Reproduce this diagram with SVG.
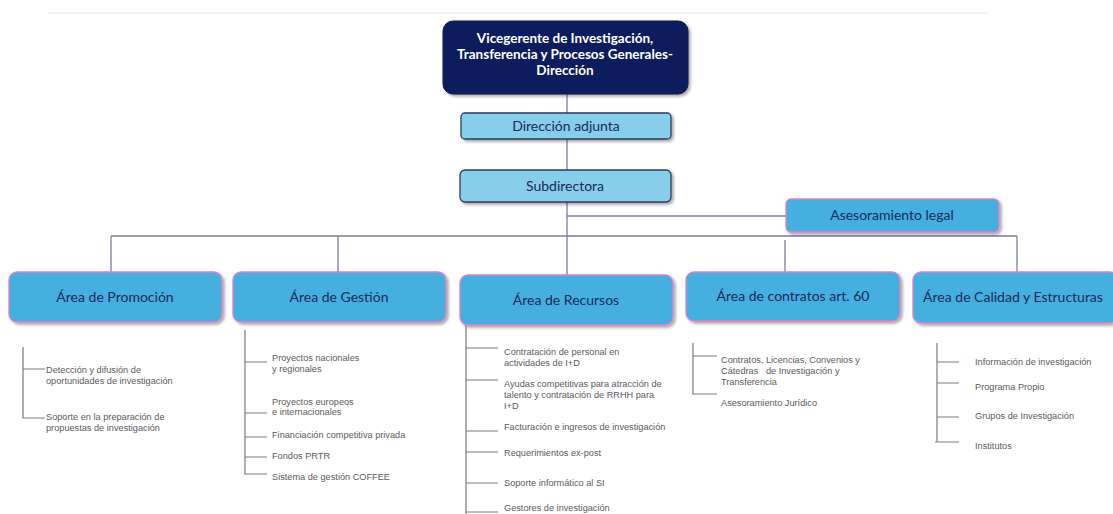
<svg xmlns="http://www.w3.org/2000/svg" width="1113" height="514" viewBox="0 0 1113 514">
<defs>
<filter id="sh" x="-10%" y="-20%" width="125%" height="150%">
<feDropShadow dx="2" dy="2" stdDeviation="1.5" flood-color="#000" flood-opacity="0.35"/>
</filter>
<style>
.top{fill:#0b1f5c;stroke:#0a1a4a;stroke-width:1}
.lb{fill:#87ceeb;stroke:#2e3e5e;stroke-width:1.3}
.ar{fill:#45b0e0;stroke:#e080c8;stroke-width:1.3}
.lbl{font-family:Lato,"Open Sans",sans-serif;font-size:14px;fill:#1a2a5a;text-anchor:middle}
.ttl{font-family:Lato,"Open Sans",sans-serif;font-size:13.5px;font-weight:bold;fill:#fff;text-anchor:middle}
.c{stroke:#7e7aa8;stroke-width:1.3;fill:none}
.t{stroke:#7a7a7a;stroke-width:1.2;fill:none}
.s{font-family:"Liberation Sans",Arial,sans-serif;font-size:9.2px;fill:#5a5a5a}
</style>
</defs>
<rect width="1113" height="514" fill="#fff"/>
<line x1="48" y1="13" x2="988" y2="13" stroke="#eeeeee" stroke-width="1.5"/>

<g id="connectors">
<path class="c" d="M567 94V113M567 139V170M567 202V236M567 216H787M111 236H1017M111 236V273M338 236V273M567 236V276M785 240V273M1017 236V272"/>
</g>

<g id="n-top">
<rect class="top" x="443" y="21" width="245" height="73" rx="10" filter="url(#sh)"/>
<text class="ttl" x="565" y="43">Vicegerente de Investigación,</text>
<text class="ttl" x="565" y="59">Transferencia y Procesos Generales-</text>
<text class="ttl" x="565" y="75">Dirección</text>
</g>
<g id="n-adjunta">
<rect class="lb" x="461" y="113" width="210" height="26" rx="4" filter="url(#sh)"/>
<text class="lbl" x="566" y="131">Dirección adjunta</text>
</g>
<g id="n-sub">
<rect class="lb" x="460" y="170" width="211" height="32" rx="5" filter="url(#sh)"/>
<text class="lbl" x="565" y="191">Subdirectora</text>
</g>
<g id="n-legal">
<rect class="ar" x="786" y="199" width="213" height="33" rx="5" filter="url(#sh)"/>
<text class="lbl" x="892" y="220">Asesoramiento legal</text>
</g>

<g id="n-promo">
<rect class="ar" x="9" y="272" width="213" height="50" rx="8" filter="url(#sh)"/>
<text class="lbl" x="115" y="302">Área de Promoción</text>
</g>
<g id="n-gestion">
<rect class="ar" x="233" y="272" width="213" height="50" rx="8" filter="url(#sh)"/>
<text class="lbl" x="339" y="302">Área de Gestión</text>
</g>
<g id="n-recursos">
<rect class="ar" x="460" y="275" width="213" height="50" rx="8" filter="url(#sh)"/>
<text class="lbl" x="566" y="305">Área de Recursos</text>
</g>
<g id="n-contratos">
<rect class="ar" x="686" y="272" width="214" height="49" rx="8" filter="url(#sh)"/>
<text class="lbl" x="793" y="301">Área de contratos art. 60</text>
</g>
<g id="n-calidad">
<rect class="ar" x="913" y="272" width="205" height="51" rx="8" filter="url(#sh)"/>
<text class="lbl" x="1013" y="302">Área de Calidad y Estructuras</text>
</g>

<g id="list-promo">
<path class="t" d="M23 347V418H45M23 369H45"/>
<text class="s" x="46" y="373">Detección y difusión de</text>
<text class="s" x="46" y="384">oportunidades de investigación</text>
<text class="s" x="46" y="420">Soporte en la preparación de</text>
<text class="s" x="46" y="431">propuestas de investigación</text>
</g>
<g id="list-gestion">
<path class="t" d="M245 330V474H267M245 362H267M245 413H267M245 437H267M245 457H267"/>
<text class="s" x="272" y="361">Proyectos nacionales</text>
<text class="s" x="272" y="372">y regionales</text>
<text class="s" x="272" y="405">Proyectos europeos</text>
<text class="s" x="272" y="415">e internacionales</text>
<text class="s" x="272" y="438">Financiación competitiva privada</text>
<text class="s" x="272" y="459">Fondos PRTR</text>
<text class="s" x="272" y="480">Sistema de gestión COFFEE</text>
</g>
<g id="list-recursos">
<path class="t" d="M466 325V514M466 348H498M466 380H498M466 431H498M466 452H498M466 483H498M466 512H498"/>
<text class="s" x="504" y="355">Contratación de personal en</text>
<text class="s" x="504" y="366">actividades de I+D</text>
<text class="s" x="504" y="387">Ayudas competitivas para atracción de</text>
<text class="s" x="504" y="398">talento y contratación de RRHH para</text>
<text class="s" x="504" y="409">I+D</text>
<text class="s" x="504" y="430">Facturación e ingresos de investigación</text>
<text class="s" x="504" y="456">Requerimientos ex-post</text>
<text class="s" x="504" y="486">Soporte informático al SI</text>
<text class="s" x="504" y="511">Gestores de investigación</text>
</g>
<g id="list-contratos">
<path class="t" d="M693 343V394H717M693 356H717"/>
<text class="s" x="721" y="363">Contratos, Licencias, Convenios y</text>
<text class="s" x="721" y="374" xml:space="preserve">Cátedras   de Investigación y</text>
<text class="s" x="721" y="385">Transferencia</text>
<text class="s" x="721" y="406">Asesoramiento Jurídico</text>
</g>
<g id="list-calidad">
<path class="t" d="M937 343V442M937 362H959M937 383H959M937 417H959M935 442H959"/>
<text class="s" x="975" y="365">Información de investigación</text>
<text class="s" x="975" y="390">Programa Propio</text>
<text class="s" x="975" y="419">Grupos de Investigación</text>
<text class="s" x="975" y="449">Institutos</text>
</g>
</svg>
